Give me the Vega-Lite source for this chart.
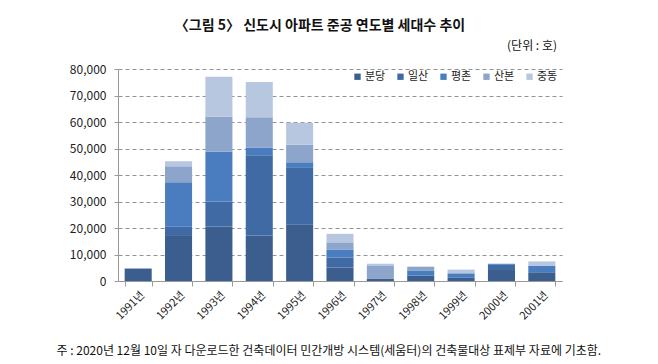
{
  "$schema": "https://vega.github.io/schema/vega-lite/v6.json",
  "width": 444,
  "height": 212,
  "autosize": {"type": "none"},
  "padding": {"left": 118, "top": 69, "right": 96, "bottom": 83},
  "background": "white",
  "config": {
    "font": "Noto Sans CJK KR",
    "view": {"stroke": null}
  },
  "title": {
    "text": "〈그림 5〉 신도시 아파트 준공 연도별 세대수 추이",
    "fontSize": 14,
    "fontWeight": "bold",
    "color": "#111",
    "anchor": "middle",
    "dx": -20,
    "offset": 8
  },
  "datasets": {
    "cities": [
      {"city": "분당", "rank": 0},
      {"city": "일산", "rank": 1},
      {"city": "평촌", "rank": 2},
      {"city": "산본", "rank": 3},
      {"city": "중동", "rank": 4}
    ]
  },
  "data": {
    "values": [
      {"year": "1991년", "city": "분당", "units": 4700},
      {"year": "1992년", "city": "분당", "units": 17000},
      {"year": "1992년", "city": "일산", "units": 3500},
      {"year": "1992년", "city": "평촌", "units": 16800},
      {"year": "1992년", "city": "산본", "units": 6000},
      {"year": "1992년", "city": "중동", "units": 1900},
      {"year": "1993년", "city": "분당", "units": 20500},
      {"year": "1993년", "city": "일산", "units": 9500},
      {"year": "1993년", "city": "평촌", "units": 18900},
      {"year": "1993년", "city": "산본", "units": 13100},
      {"year": "1993년", "city": "중동", "units": 15100},
      {"year": "1994년", "city": "분당", "units": 17200},
      {"year": "1994년", "city": "일산", "units": 30300},
      {"year": "1994년", "city": "평촌", "units": 2900},
      {"year": "1994년", "city": "산본", "units": 11400},
      {"year": "1994년", "city": "중동", "units": 13300},
      {"year": "1995년", "city": "분당", "units": 21400},
      {"year": "1995년", "city": "일산", "units": 21500},
      {"year": "1995년", "city": "평촌", "units": 1900},
      {"year": "1995년", "city": "산본", "units": 6600},
      {"year": "1995년", "city": "중동", "units": 8300},
      {"year": "1996년", "city": "분당", "units": 5100},
      {"year": "1996년", "city": "일산", "units": 3800},
      {"year": "1996년", "city": "평촌", "units": 3000},
      {"year": "1996년", "city": "산본", "units": 2700},
      {"year": "1996년", "city": "중동", "units": 3200},
      {"year": "1997년", "city": "분당", "units": 900},
      {"year": "1997년", "city": "산본", "units": 4800},
      {"year": "1997년", "city": "중동", "units": 800},
      {"year": "1998년", "city": "분당", "units": 2000},
      {"year": "1998년", "city": "평촌", "units": 2000},
      {"year": "1998년", "city": "산본", "units": 1400},
      {"year": "1999년", "city": "분당", "units": 1200},
      {"year": "1999년", "city": "평촌", "units": 1700},
      {"year": "1999년", "city": "중동", "units": 1400},
      {"year": "2000년", "city": "분당", "units": 4500},
      {"year": "2000년", "city": "일산", "units": 1600},
      {"year": "2000년", "city": "평촌", "units": 400},
      {"year": "2001년", "city": "분당", "units": 3300},
      {"year": "2001년", "city": "평촌", "units": 2500},
      {"year": "2001년", "city": "중동", "units": 1600}
    ]
  },
  "transform": [
    {"lookup": "city", "from": {"data": {"name": "cities"}, "key": "city", "fields": ["rank"]}}
  ],
  "mark": {"type": "bar"},
  "encoding": {
    "x": {
      "field": "year",
      "type": "nominal",
      "sort": null,
      "scale": {"paddingInner": 0.33, "paddingOuter": 0.165},
      "axis": {
        "labelAngle": -45,
        "labelFontSize": 11,
        "labelColor": "#222",
        "domainColor": "#999",
        "tickColor": "#999",
        "tickBand": "extent",
        "tickSize": 5,
        "labelPadding": 3,
        "title": "주 : 2020년 12월 10일 자 다운로드한 건축데이터 민간개방 시스템(세움터)의 건축물대상 표제부 자료에 기초함.",
        "titleFontSize": 12,
        "titleFontWeight": "normal",
        "titleColor": "#111",
        "titleAnchor": "start",
        "titleAlign": "left",
        "titleX": -62,
        "titleY": 64
      }
    },
    "y": {
      "field": "units",
      "type": "quantitative",
      "stack": "zero",
      "scale": {"domain": [0, 80000], "nice": false},
      "axis": {
        "values": [0, 10000, 20000, 30000, 40000, 50000, 60000, 70000, 80000],
        "format": ",.0f",
        "title": null,
        "labelFontSize": 12,
        "labelColor": "#222",
        "labelPadding": 8,
        "domainColor": "#999",
        "tickColor": "#999",
        "tickSize": 4,
        "gridColor": "#777",
        "gridDash": [4, 3],
        "gridWidth": 0.8
      }
    },
    "order": {"field": "rank", "type": "quantitative", "sort": "ascending"},
    "color": {
      "field": "city",
      "type": "nominal",
      "sort": ["분당", "일산", "평촌", "산본", "중동"],
      "scale": {
        "domain": ["분당", "일산", "평촌", "산본", "중동"],
        "range": ["#3b5e8f", "#3f6aa3", "#4a7dbf", "#8da5cb", "#b8c7e0"]
      },
      "legend": {
        "title": "(단위 : 호)",
        "titleFontSize": 12,
        "titleFontWeight": "normal",
        "titleColor": "#111",
        "titleAnchor": "end",
        "titlePadding": 18,
        "orient": "none",
        "legendX": 234,
        "legendY": -28,
        "direction": "horizontal",
        "symbolType": "square",
        "symbolSize": 40,
        "symbolStrokeWidth": 0,
        "labelFontSize": 11,
        "labelColor": "#222",
        "labelOffset": 2,
        "columnPadding": 9
      }
    }
  }
}
